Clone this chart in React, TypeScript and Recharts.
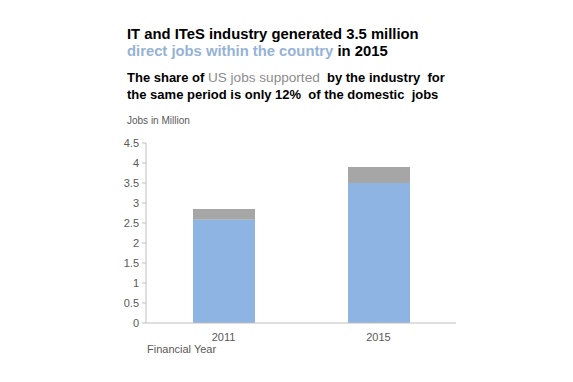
import React from 'react';
import { BarChart, Bar, XAxis, YAxis } from 'recharts';

const years = ['2011', '2015'];
const domesticJobs = [2.58, 3.5];
const usJobs = [0.27, 0.4];
const yTicks = [0, 0.5, 1, 1.5, 2, 2.5, 3, 3.5, 4, 4.5];

const data = years.map((year, i) => ({ year, domestic: domesticJobs[i], us: usJobs[i] }));

const font = 'Arial, "Liberation Sans", sans-serif';

const App: React.FC = () => {
  return (
    <div style={{ position: 'absolute', left: 0, top: 0, width: 573, height: 382, background: '#fff', fontFamily: font }}>
      <div style={{ position: 'absolute', left: 127, top: 26, fontSize: 14.8, fontWeight: 'bold', lineHeight: '17px', color: '#000' }}>
        <div>IT and ITeS industry generated 3.5 million</div>
        <div><span style={{ color: '#95B3D7' }}>direct jobs within the country</span> in 2015</div>
      </div>
      <div style={{ position: 'absolute', left: 127, top: 69, fontSize: 13, fontWeight: 'bold', lineHeight: '17px', color: '#000', whiteSpace: 'pre' }}>
        <div>The share of <span style={{ color: '#8c8c8c', fontWeight: 'normal', fontSize: 13.6 }}>US jobs supported</span>  by the industry  for</div>
        <div>the same period is only 12%  of the domestic  jobs</div>
      </div>
      <div style={{ position: 'absolute', left: 127, top: 115, fontSize: 10, color: '#595959' }}>Jobs in Million</div>
      <div style={{ position: 'absolute', left: 147, top: 343, fontSize: 11, color: '#595959' }}>Financial Year</div>
      <div style={{ position: 'absolute', left: 0, top: 0 }}>
        <BarChart
          width={573}
          height={382}
          data={data}
          margin={{ top: 143, right: 117, left: 106, bottom: 29 }}
          barCategoryGap="30%"
        >
          <XAxis
            dataKey="year"
            height={30}
            tickLine={false}
            axisLine={{ stroke: '#BFBFBF' }}
            tick={{ fill: '#595959', fontSize: 11, fontFamily: font }}
            tickMargin={4}
          />
          <YAxis
            width={40}
            domain={[0, 4.5]}
            ticks={yTicks}
            interval={0}
            axisLine={{ stroke: '#BFBFBF' }}
            tickLine={{ stroke: '#BFBFBF' }}
            tickSize={4}
            tickMargin={3}
            tick={{ fill: '#595959', fontSize: 11, fontFamily: font }}
          />
          <Bar dataKey="domestic" stackId="a" fill="#8EB4E3" barSize={62} isAnimationActive={false} />
          <Bar dataKey="us" stackId="a" fill="#A6A6A6" barSize={62} isAnimationActive={false} />
        </BarChart>
      </div>
    </div>
  );
};

export default App;
